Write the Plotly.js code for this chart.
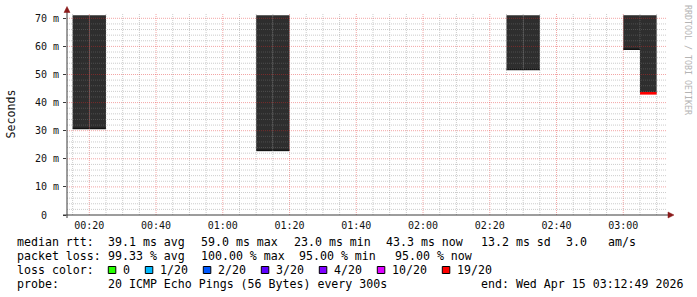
<!DOCTYPE html>
<html><head><meta charset="utf-8">
<script src="https://cdn.plot.ly/plotly-3.0.1.min.js"></script>
<style>html,body{margin:0;padding:0;background:#fff;overflow:hidden}</style>
</head><body><div id="chart" style="width:697px;height:297px"></div>
<script>
// ---------------- data ----------------
const day = '2026-04-15';
const stepStart = ['00:15','00:20','01:10','01:15','02:25','02:30','03:00','03:05']; // 5-min steps
const medianMs  = [30.8, 30.8, 23.0, 23.0, 51.8, 51.8, 59.0, 43.3];
const lossPings = [20, 20, 20, 20, 20, 20, 20, 19];
const smokeTopMs = 71.1;
const viewStart = '00:13:19';
const viewEnd   = '03:13:06';
const yTickVals = [0, 10, 20, 30, 40, 50, 60, 70];
const yTickText = ['0\u00a0\u00a0', '10 m', '20 m', '30 m', '40 m', '50 m', '60 m', '70 m'];
const xTickTimes = ['00:20','00:40','01:00','01:20','01:40','02:00','02:20','02:40','03:00'];
const lossLabels = ['0', '1/20', '2/20', '3/20', '4/20', '10/20', '19/20'];
const lossColors = ['#26ff00', '#00b8ff', '#0059ff', '#5e00ff', '#7e00ff', '#dd00ff', '#ff0000'];
const rttItems  = ['median rtt:', '39.1 ms avg', '59.0 ms max', '23.0 ms min', '43.3 ms now', '13.2 ms sd', '3.0', 'am/s'];
const lossItems = ['packet loss:', '99.33 % avg', '100.00 % max', '95.00 % min', '95.00 % now'];
const lossColorTitle = 'loss color:';
const probeItems = ['probe:', '20 ICMP Echo Pings (56 Bytes) every 300s', 'end: Wed Apr 15 03:12:49 2026'];
const yTitle = 'Seconds';
const watermark = 'RRDTOOL / TOBI OETIKER';

// ---------------- layout constants ----------------
const P = {l: 67, t: 14, w: 600, h: 201};
const W = 697, H = 297;
const rttPos   = [16.5, 107.8, 200.4, 294, 385.3, 480.2, 565.7, 608];
const lossPos  = [16.5, 107.8, 200.4, 298.4, 394.2];
const probePos = [16.5, 107.8, 480.2];
const LEG_Y = [241.5, 255.5, 269.5, 283.5];
const CH = 7.0;

// ---------------- helpers ----------------
const px2x = px => (px - P.l) / P.w;
const py2y = py => (P.t + P.h - py) / P.h;
const pad = n => String(n).padStart(2, '0');
function toMin(s) { const a = s.split(':').map(Number); return a[0]*60 + a[1] + (a[2]||0)/60; }
function ts(min) {
  const s = Math.round(min * 60);
  return `${day} ${pad(Math.floor(s/3600))}:${pad(Math.floor(s%3600/60))}:${pad(s%60)}`;
}
const nb = s => s.replace(/ /g, '\u00a0');
const MONO = 'DejaVu Sans Mono, monospace';
const STEP = 5;

// ---------------- traces ----------------
const smoke = {
  type: 'bar',
  x: stepStart.map(s => ts(toMin(s))),
  base: medianMs,
  y: medianMs.map(m => smokeTopMs - m),
  width: STEP * 60000,
  offset: 0,
  marker: {color: '#2e2e2e', line: {width: 0}},
  hoverinfo: 'skip', showlegend: false
};
function medianTrace(filter, color, width) {
  const x = [], y = [];
  stepStart.forEach((s, i) => {
    if (!filter(lossPings[i])) return;
    const t0 = toMin(s);
    x.push(ts(t0), ts(t0 + STEP), null);
    y.push(medianMs[i], medianMs[i], null);
  });
  return {type: 'scatter', mode: 'lines', x, y, line: {color, width},
          connectgaps: false, hoverinfo: 'skip', showlegend: false};
}
const lossColorFor = n => {
  const idx = ['0','1','2','3','4','10','19'].indexOf(String(n));
  return idx >= 0 ? lossColors[idx] : '#141414';
};
const medDark = medianTrace(n => n === 20, lossColorFor(20), 1.6);
const medRed  = medianTrace(n => n === 19, lossColorFor(19), 2.6);

// ---------------- grid (drawn above the smoke, like rrdtool) ----------------
const shapes = [];
const minorCol = 'rgba(128,128,128,0.40)';
const majorCol = 'rgba(225,40,40,0.42)';
const t0v = toMin(viewStart), t1v = toMin(viewEnd);
for (let m = Math.ceil(t0v / STEP) * STEP; m < t1v; m += STEP) {
  shapes.push({type: 'line', xref: 'x', yref: 'paper', x0: ts(m), x1: ts(m), y0: 0, y1: 1,
    layer: 'above', line: {color: m % 20 === 0 ? majorCol : minorCol, width: 1, dash: '1px,1px'}});
}
for (let v = 2; v <= 70; v += 2) {
  shapes.push({type: 'line', xref: 'paper', yref: 'y', x0: 0, x1: 1, y0: v, y1: v,
    layer: 'above', line: {color: v % 10 === 0 ? majorCol : minorCol, width: 1, dash: '1px,1px'}});
}
// axes lines + arrows
const axisCol = '#3a3a3a', arrowCol = '#8b1a1a';
shapes.push({type: 'line', xref: 'paper', yref: 'paper', x0: px2x(63), x1: px2x(669), y0: py2y(215), y1: py2y(215),
  layer: 'above', line: {color: axisCol, width: 1}});
shapes.push({type: 'line', xref: 'paper', yref: 'paper', x0: px2x(67), x1: px2x(67), y0: py2y(218), y1: py2y(11),
  layer: 'above', line: {color: axisCol, width: 1}});
function tri(pts) {
  return {type: 'path', xref: 'paper', yref: 'paper', layer: 'above',
    path: 'M' + pts.map(p => px2x(p[0]) + ',' + py2y(p[1])).join('L') + 'Z',
    fillcolor: arrowCol, line: {color: arrowCol, width: 0.5}};
}
shapes.push(tri([[668, 212], [674, 215], [668, 218]]));
shapes.push(tri([[64, 12.5], [67, 6.5], [70, 12.5]]));

// ---------------- legend text ----------------
const annotations = [];
function text(str, px, py) {
  annotations.push({text: nb(str), xref: 'paper', yref: 'paper', x: px2x(px - 0.7), y: py2y(py),
    xanchor: 'left', yanchor: 'middle', showarrow: false, borderpad: 0,
    font: {family: MONO, size: 11.6, color: '#000'}});
}
rttItems.forEach((s, i) => text(s, rttPos[i], LEG_Y[0]));
lossItems.forEach((s, i) => text(s, lossPos[i], LEG_Y[1]));
text(lossColorTitle, rttPos[0], LEG_Y[2]);
probeItems.forEach((s, i) => text(s, probePos[i], LEG_Y[3]));
let bx = 108.3;
lossLabels.forEach((lab, i) => {
  shapes.push({type: 'rect', xref: 'paper', yref: 'paper', layer: 'above',
    x0: px2x(bx), x1: px2x(bx + 7.5), y0: py2y(273.5), y1: py2y(266.5),
    fillcolor: lossColors[i], line: {color: '#000', width: 1}});
  text(lab, bx + 14.5, LEG_Y[2]);
  bx += 30 + CH * lab.length;
});
// y title + watermark
annotations.push({text: yTitle, xref: 'paper', yref: 'paper', x: px2x(10.5), y: py2y(114),
  xanchor: 'center', yanchor: 'middle', textangle: -90, showarrow: false, borderpad: 0,
  font: {family: MONO, size: 11.6, color: '#111'}});
annotations.push({text: nb(watermark), xref: 'paper', yref: 'paper', x: px2x(688), y: py2y(60),
  xanchor: 'center', yanchor: 'middle', textangle: 90, showarrow: false, borderpad: 0,
  font: {family: MONO, size: 8.3, color: '#b4b4b4'}});

const layout = {
  width: W, height: H,
  margin: {l: P.l, r: W - P.l - P.w, t: P.t, b: H - P.t - P.h, pad: 0},
  paper_bgcolor: '#fff', plot_bgcolor: '#fff',
  showlegend: false, hovermode: false, barmode: 'overlay',
  xaxis: {type: 'date', range: [`${day} ${viewStart}`, `${day} ${viewEnd}`],
    tickvals: xTickTimes.map(s => ts(toMin(s))), ticktext: xTickTimes,
    showgrid: false, zeroline: false, showline: false, ticks: '', ticklabelstandoff: 3,
    tickfont: {family: MONO, size: 10, color: '#111'}, fixedrange: true},
  yaxis: {range: [0, P.h / 2.81], tickvals: yTickVals, ticktext: yTickText,
    showgrid: false, zeroline: false, showline: false, ticks: 'outside', ticklen: 3,
    tickcolor: axisCol, tickwidth: 1, ticklabelstandoff: 2,
    tickfont: {family: MONO, size: 10, color: '#111'}, fixedrange: true},
  shapes, annotations
};
Plotly.newPlot('chart', [smoke, medDark, medRed], layout, {staticPlot: true, displayModeBar: false});
</script></body></html>
